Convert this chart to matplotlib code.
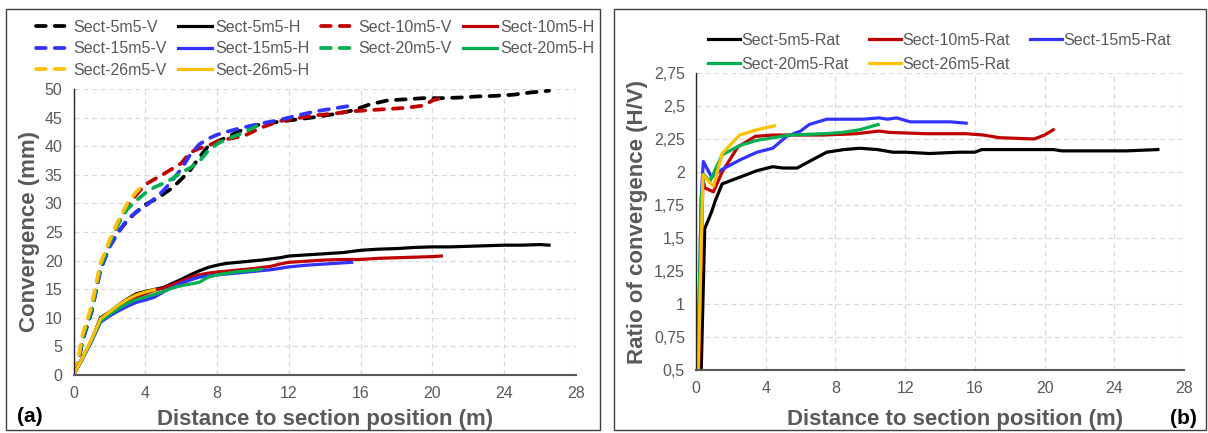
import matplotlib
matplotlib.use("Agg")
import matplotlib.pyplot as plt
from matplotlib.patches import Rectangle
from matplotlib.ticker import FuncFormatter, MultipleLocator

plt.rcParams['font.family'] = ['Liberation Sans', 'DejaVu Sans']

# ---- data (a): convergence, V = vertical (dashed), H = horizontal (solid)
x5v = [0, 0.25, 0.5, 1, 1.5, 2, 2.5, 3, 3.5, 4, 4.5, 5, 5.5, 6, 6.5, 7, 7.5, 8, 8.5, 9.5,
       10.5, 11.5, 12.5, 13.5, 14.5, 15.5, 16.5, 17.5, 18.5, 19.5, 20.5, 21.5, 22.5, 23.5,
       24.5, 25.5, 26.5]
y5v = [0.5, 2, 6, 11, 18.5, 22.5, 25, 27, 28.5, 29.8, 30.6, 31.6, 32.7, 34.2, 35.8, 38.0,
       40.0, 40.8, 41.5, 43.0, 43.9, 44.3, 44.7, 45.1, 45.6, 46.2, 47.3, 48.0, 48.2, 48.4,
       48.4, 48.5, 48.7, 48.8, 49.0, 49.4, 49.7]
x10v = [0, 0.25, 0.5, 1, 1.5, 2, 2.5, 3, 3.5, 4, 5, 6, 6.5, 7, 7.5, 8, 8.5, 9.5, 10.5, 11.5,
        12.5, 13.5, 14.5, 15.5, 16.5, 17.5, 18.5, 19.5, 20, 20.5]
y10v = [0.5, 2, 6.5, 11.5, 19, 23, 26.5, 29.5, 31.5, 33.3, 35.1, 37, 38.9, 39.6, 40.1, 40.8,
        41.2, 41.8, 43.3, 44.4, 44.9, 45.4, 45.7, 46.1, 46.3, 46.5, 46.7, 47.1, 48.0, 48.4]
x15v = [0, 0.25, 0.5, 1, 1.5, 2, 2.5, 3, 3.5, 4, 4.5, 5, 5.5, 6, 6.5, 7, 7.5, 8, 8.5, 9.5,
        10.5, 11.5, 12.5, 13.5, 14.5, 15.5]
y15v = [0.5, 2, 6, 11, 18.3, 22.3, 25, 27.2, 28.5, 29.5, 30.8, 32.2, 34, 36, 38.5, 40.3, 41.3,
        42, 42.5, 43.3, 44, 44.6, 45.4, 46.1, 46.6, 47.1]
x20v = [0, 0.25, 0.5, 1, 1.5, 2, 2.5, 3, 3.5, 4, 4.5, 5, 5.5, 6, 6.5, 7, 7.5, 8, 8.5, 9.5, 10.5]
y20v = [0.5, 2.2, 6.5, 11.5, 19, 23, 26.5, 29, 30.5, 31.8, 32.8, 33.5, 34.3, 35.4, 36.2, 37.3,
        39.2, 40.4, 41.2, 42.4, 44]
x26v = [0, 0.25, 0.5, 1, 1.5, 2, 2.5, 3, 3.5, 4]
y26v = [0.5, 2.5, 7, 12, 19.5, 23.5, 27, 30, 32, 33.6]

x5h = [0, 0.5, 1, 1.5, 2, 2.5, 3, 3.5, 4, 5, 5.5, 6, 6.5, 7, 7.5, 8, 8.5, 9.5, 10.5, 11, 11.5,
       12, 13, 14, 15, 16, 17, 18, 19, 20, 21, 22, 23, 24, 25, 26, 26.5]
y5h = [0, 3, 6, 10, 11, 12.2, 13.3, 14.2, 14.6, 15.3, 16, 16.7, 17.5, 18.2, 18.8, 19.2, 19.5,
       19.8, 20.1, 20.3, 20.5, 20.8, 21.0, 21.2, 21.4, 21.8, 22.0, 22.1, 22.3, 22.4, 22.4, 22.5,
       22.6, 22.7, 22.7, 22.8, 22.7]
x10h = [0, 0.5, 1, 1.5, 2, 2.5, 3, 3.5, 4, 4.5, 5, 5.5, 6, 6.5, 7, 7.5, 8, 9, 10, 11, 11.5, 12,
        13, 14, 15, 16, 17, 18, 19, 20, 20.5]
y10h = [0, 3, 6, 9.5, 10.8, 11.8, 12.8, 13.6, 14.2, 14.8, 15.2, 15.8, 16.4, 17, 17.5, 17.8, 18,
        18.3, 18.6, 19, 19.4, 19.7, 19.9, 20.1, 20.2, 20.2, 20.4, 20.5, 20.6, 20.7, 20.8]
x15h = [0, 0.5, 1, 1.5, 2, 2.5, 3, 3.5, 4, 4.5, 5, 5.5, 6, 6.5, 7, 7.5, 8, 9, 10, 11, 12, 13,
        14, 15, 15.5]
y15h = [0, 2.8, 5.8, 9.2, 10.3, 11.2, 12, 12.7, 13.1, 13.6, 14.5, 15.3, 16, 16.6, 17.1, 17.3,
        17.5, 17.8, 18.1, 18.4, 18.9, 19.2, 19.4, 19.6, 19.7]
x20h = [0, 0.5, 1, 1.5, 2, 2.5, 3, 3.5, 4, 4.5, 5, 5.5, 6, 6.5, 7, 7.5, 8, 9, 10, 10.5]
y20h = [0, 2.9, 6, 9.4, 10.6, 11.6, 12.5, 13.2, 13.6, 14.1, 14.6, 15.2, 15.6, 15.9, 16.2, 17.1,
        17.5, 18, 18.3, 18.5]
x26h = [0, 0.5, 1, 1.5, 2, 2.5, 3, 3.5, 4, 4.5]
y26h = [0, 3, 6.2, 9.8, 11, 12.2, 13.2, 14, 14.5, 14.9]

# ---- data (b): ratio H/V
x5r = [0.3, 0.5, 0.9, 1.1, 1.5, 2.5, 3.5, 4.4, 5, 5.8, 6.5, 7.5, 8.5, 9.4, 10.4, 11.3, 12,
       13.4, 15.1, 16, 16.4, 18, 20.5, 21, 22.8, 24.7, 26.5]
y5r = [0.5, 1.57, 1.7, 1.78, 1.91, 1.96, 2.01, 2.04, 2.03, 2.03, 2.08, 2.15, 2.17, 2.18, 2.17,
       2.15, 2.15, 2.14, 2.15, 2.15, 2.17, 2.17, 2.17, 2.16, 2.16, 2.16, 2.17]
x10r = [0.15, 0.4, 0.5, 1.0, 1.5, 2.4, 3.4, 4.4, 5.4, 7.3, 9.2, 10.5, 11.1, 13.2, 15.5, 16.5,
        17.4, 19.4, 20, 20.5]
y10r = [0.5, 1.95, 1.88, 1.85, 2.0, 2.19, 2.27, 2.28, 2.28, 2.28, 2.29, 2.31, 2.30, 2.29, 2.29,
        2.28, 2.26, 2.25, 2.28, 2.32]
x15r = [0.1, 0.3, 0.42, 0.9, 1.5, 2.5, 3.5, 4.4, 5.2, 6, 6.5, 7.5, 9.6, 10.5, 11, 11.5, 12.3,
        14.6, 15.5]
y15r = [0.5, 1.8, 2.08, 1.96, 2.02, 2.09, 2.15, 2.18, 2.27, 2.31, 2.36, 2.40, 2.40, 2.41, 2.40,
        2.41, 2.38, 2.38, 2.37]
x20r = [0.1, 0.3, 0.45, 0.8, 1.5, 2.5, 3.5, 5.4, 7.3, 8.4, 9.4, 10.45]
y20r = [0.5, 1.8, 1.98, 1.93, 2.13, 2.2, 2.24, 2.28, 2.29, 2.30, 2.32, 2.36]
x26r = [0.13, 0.4, 1.0, 1.5, 2.5, 3.5, 4.5]
y26r = [0.5, 1.98, 1.89, 2.14, 2.28, 2.32, 2.35]

names = ['Sect-5m5', 'Sect-10m5', 'Sect-15m5', 'Sect-20m5', 'Sect-26m5']
colors = ['#000000', '#C00000', '#3333FF', '#00B050', '#FFC000']

grey = '#595959'
lw = 2.3

fig = plt.figure(figsize=(12.08, 4.33), dpi=100)

# panel frames
for x0, x1 in [(6, 600), (614, 1206)]:
    fig.add_artist(Rectangle((x0 / 1208, 3 / 433), (x1 - x0) / 1208, 421 / 433,
                             transform=fig.transFigure, fill=False,
                             edgecolor='#3f3f3f', lw=1.0))


def style(ax):
    for s in ['top', 'right']:
        ax.spines[s].set_visible(False)
    ax.spines['left'].set_color('#262626')
    ax.spines['left'].set_linewidth(1.0)
    ax.spines['bottom'].set_color(grey)
    ax.spines['bottom'].set_linewidth(1.5)
    ax.grid(True, linestyle=(0, (4, 3)), color='#d9d9d9', lw=0.9)
    ax.set_axisbelow(True)
    ax.tick_params(length=0, labelsize=11.5, labelcolor=grey, pad=8)


# ---- (a)
ax1 = fig.add_axes([73.5 / 1208, 1 - 375 / 433, 502.5 / 1208, 286 / 433])
style(ax1)
vx = [x5v, x10v, x15v, x20v, x26v]
vy = [y5v, y10v, y15v, y20v, y26v]
hx = [x5h, x10h, x15h, x20h, x26h]
hy = [y5h, y10h, y15h, y20h, y26h]
hv, hh = [], []
for i in range(5):
    l, = ax1.plot(vx[i], vy[i], color=colors[i], lw=lw + 0.4, linestyle=(0, (2.6, 2.4)),
                  dash_capstyle='round', label=names[i] + '-V')
    hv.append(l)
for i in range(5):
    l, = ax1.plot(hx[i], hy[i], color=colors[i], lw=lw, label=names[i] + '-H')
    hh.append(l)
ax1.set_xlim(0, 28)
ax1.set_ylim(0, 50)
ax1.xaxis.set_major_locator(MultipleLocator(4))
ax1.yaxis.set_major_locator(MultipleLocator(5))
ax1.set_xlabel('Distance to section position (m)', fontsize=16, fontweight='bold',
               color=grey, labelpad=6)
ax1.set_ylabel('Convergence (mm)', fontsize=16, fontweight='bold', color=grey, labelpad=3)

order = [hv[0], hv[2], hv[4], hh[0], hh[2], hh[4], hv[1], hv[3], hh[1], hh[3]]
fig.legend(handles=order, labels=[h.get_label() for h in order], ncol=4,
           loc='upper left', bbox_to_anchor=(28 / 1208, 1 - 12 / 433), frameon=False,
           fontsize=11.5, labelcolor=grey, handlelength=2.1, handletextpad=0.25,
           columnspacing=0.7, labelspacing=0.4, borderpad=0)

fig.text(17 / 1208, 1 - 416 / 433, '(a)', fontsize=15, fontweight='bold', va='center')

# ---- (b)
ax2 = fig.add_axes([696 / 1208, 1 - 370 / 433, 488 / 1208, 297 / 433])
style(ax2)
rx = [x5r, x10r, x15r, x20r, x26r]
ry = [y5r, y10r, y15r, y20r, y26r]
hr = []
for i in range(5):
    l, = ax2.plot(rx[i], ry[i], color=colors[i], lw=lw, label=names[i] + '-Rat')
    hr.append(l)
ax2.set_xlim(0, 28)
ax2.set_ylim(0.5, 2.75)
ax2.xaxis.set_major_locator(MultipleLocator(4))
ax2.yaxis.set_major_locator(MultipleLocator(0.25))
ax2.yaxis.set_major_formatter(FuncFormatter(lambda v, p: ('%g' % v).replace('.', ',')))
ax2.set_xlabel('Distance to section position (m)', fontsize=16, fontweight='bold',
               color=grey)
ax2.xaxis.set_label_coords(0.531, -0.132)
ax2.set_ylabel('Ratio of convergence (H/V)', fontsize=16, fontweight='bold', color=grey,
               labelpad=4)

order2 = [hr[0], hr[3], hr[1], hr[4], hr[2]]
fig.legend(handles=order2, labels=[h.get_label() for h in order2], ncol=3,
           loc='upper left', bbox_to_anchor=(700 / 1208, 1 - 25 / 433), frameon=False,
           fontsize=11.5, labelcolor=grey, handlelength=2.0, handletextpad=0.1,
           columnspacing=1.25, labelspacing=0.55, borderpad=0)

fig.text(1170 / 1208, 1 - 418 / 433, '(b)', fontsize=15, fontweight='bold', va='center')

fig.savefig('out.png', dpi=100)
